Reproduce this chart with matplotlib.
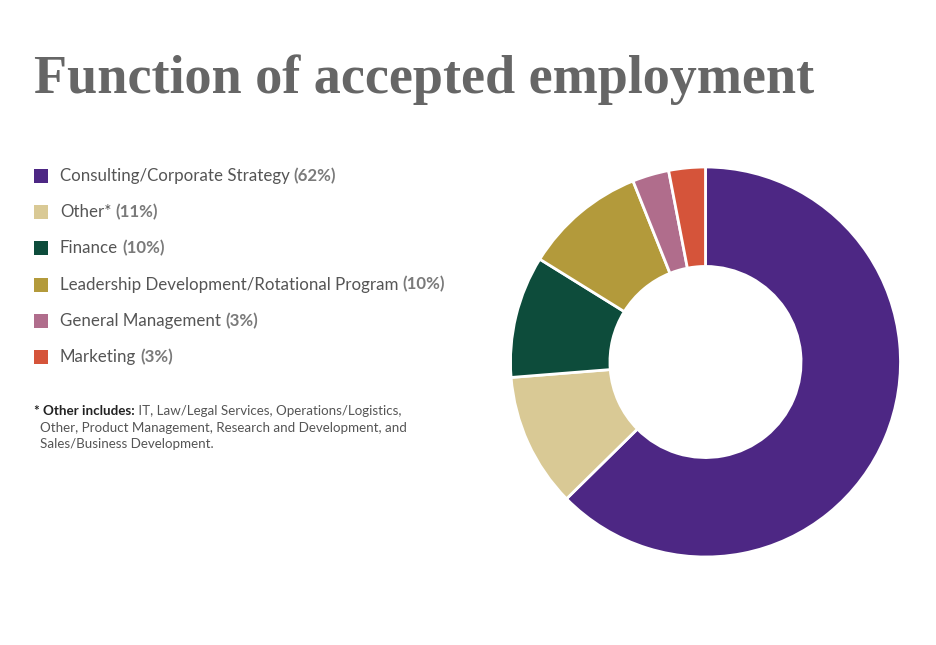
import matplotlib
matplotlib.use("Agg")
import matplotlib.pyplot as plt
from matplotlib.patches import Rectangle

# ---- data ----
categories = ["Consulting/Corporate Strategy", "Other*", "Finance",
              "Leadership Development/Rotational Program",
              "General Management", "Marketing"]
values = [62, 11, 10, 10, 3, 3]
colors = ["#4D2784", "#D9C995", "#0D4C3B", "#B39A3B", "#B06D8C", "#D5543A"]
title = "Function of accepted employment"
note_bold = "* Other includes:"
note_lines = [" IT, Law/Legal Services, Operations/Logistics,",
              "Other, Product Management, Research and Development, and",
              "Sales/Business Development."]

W, H = 936, 645
fig = plt.figure(figsize=(W / 100, H / 100), dpi=100)
fig.patch.set_facecolor("white")

def fx(x):
    return x / W

def fy(y):
    return 1 - y / H

# title
fig.text(fx(34), fy(93), title, fontsize=39, fontweight="bold",
         family="Liberation Serif", color="#666666", va="baseline", ha="left")

# donut
cx, cy, R = 705.5, 362, 195
ax = fig.add_axes([fx(cx - R), fy(cy + R), 2 * R / W, 2 * R / H])
ax.pie(values, colors=colors, startangle=90, counterclock=False,
       radius=1.0, wedgeprops=dict(width=0.51, edgecolor="white", linewidth=2))
ax.set_xlim(-1, 1)
ax.set_ylim(-1, 1)
ax.set_aspect("equal")
ax.axis("off")

# legend
fam = "Lato"
y0, dy = 176, 36.2
for i, (c, v, col) in enumerate(zip(categories, values, colors)):
    y = y0 + i * dy
    fig.patches.append(Rectangle((fx(34), fy(y + 7)), 14 / W, 14 / H,
                                 transform=fig.transFigure, facecolor=col,
                                 edgecolor="none"))
    t = fig.text(fx(60), fy(y), c, fontsize=12.2, family=fam, color="#555555",
                 va="center", ha="left")
    fig.canvas.draw()
    bb = t.get_window_extent()
    fig.text((bb.x1 + 4) / W, fy(y), f"({v}%)", fontsize=12.2, family=fam,
             fontweight="bold", color="#7a7a7a", va="center", ha="left")

# footnote
fs = 9.6
t = fig.text(fx(34), fy(411), note_bold, fontsize=fs, family=fam,
             fontweight="bold", color="#222222", va="center", ha="left")
fig.canvas.draw()
bb = t.get_window_extent()
fig.text(bb.x1 / W, fy(411), note_lines[0], fontsize=fs, family=fam,
         color="#555555", va="center", ha="left")
for j, line in enumerate(note_lines[1:]):
    fig.text(fx(40), fy(428 + 16.5 * j), line, fontsize=fs, family=fam,
             color="#555555", va="center", ha="left")

fig.savefig("out.png", dpi=100, facecolor="white")
